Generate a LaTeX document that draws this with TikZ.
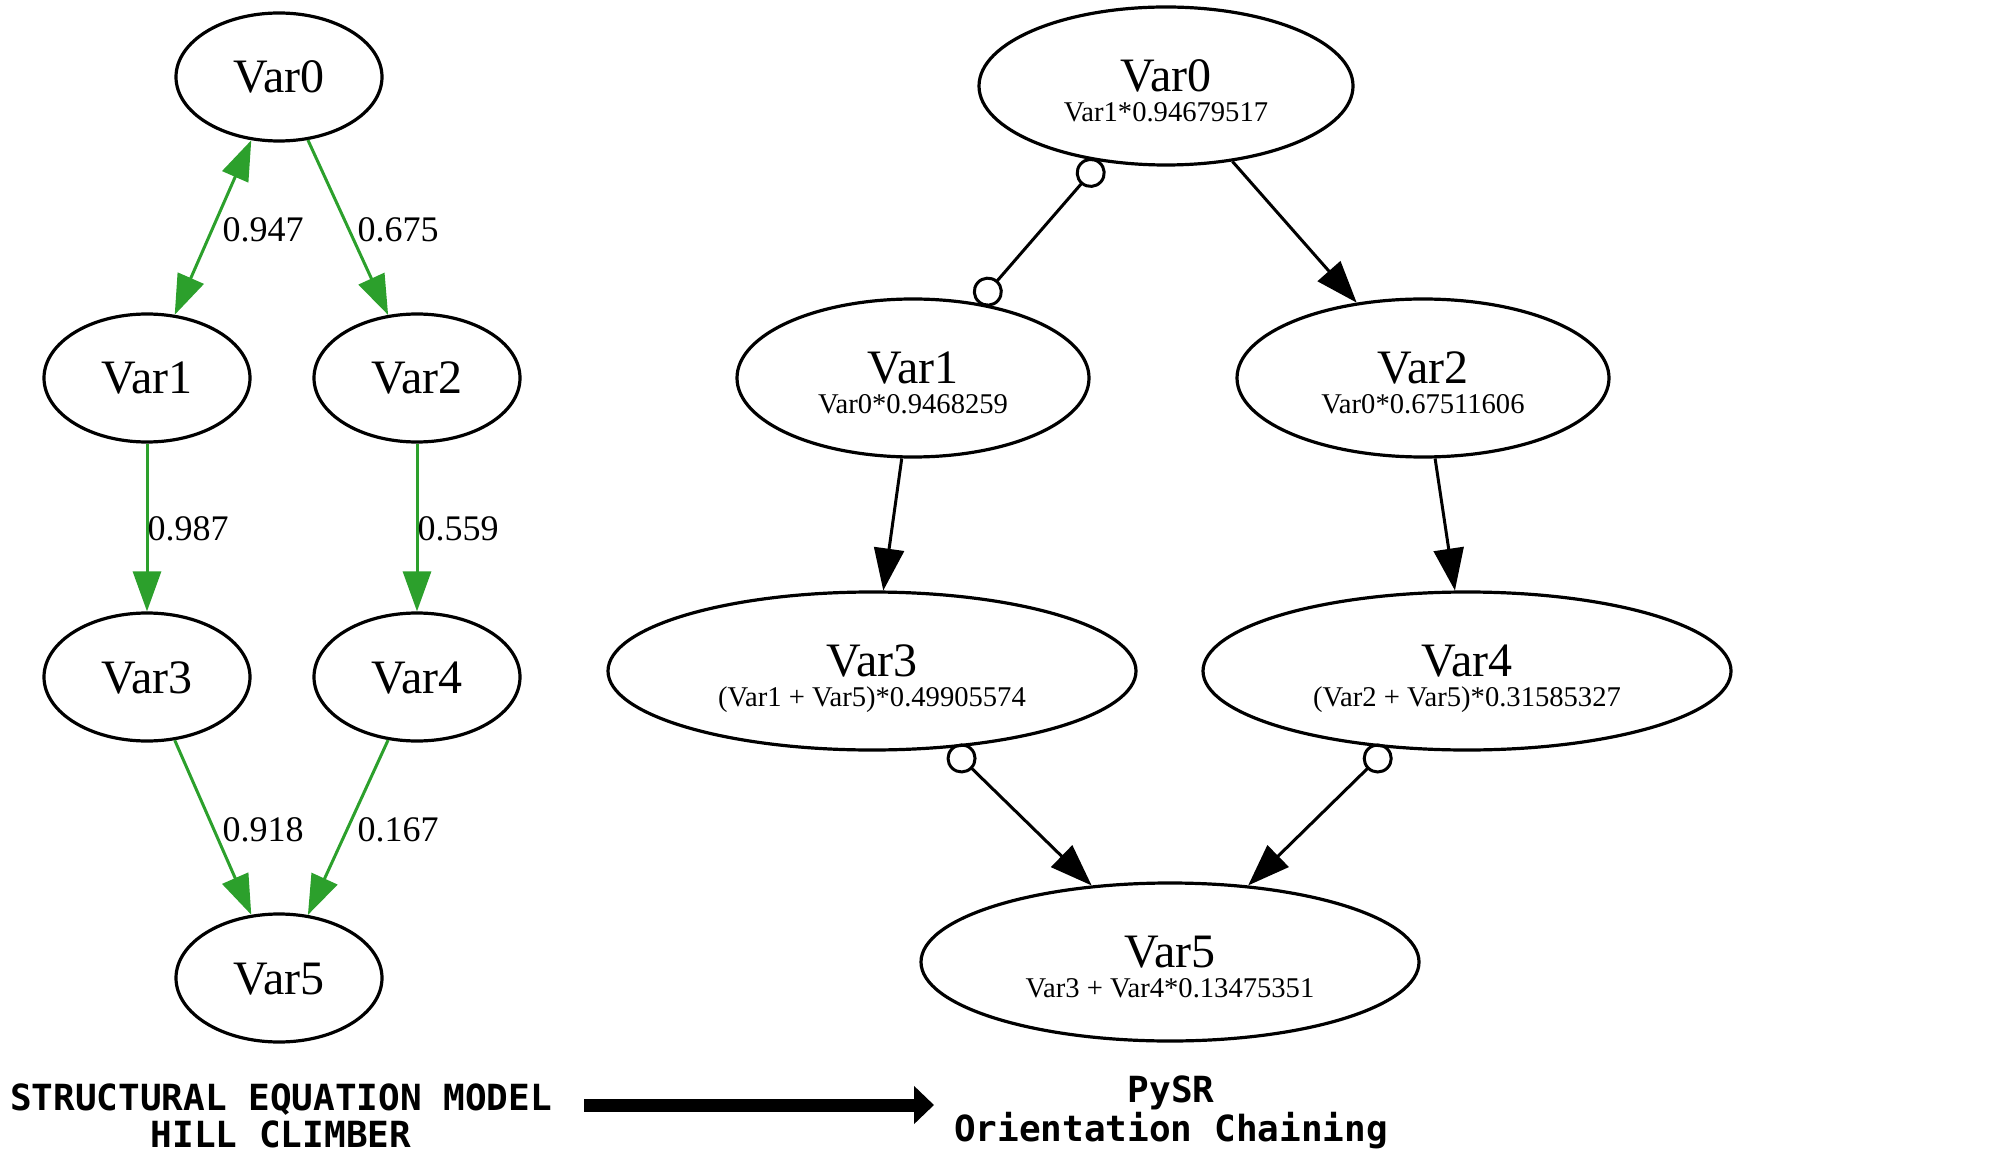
\documentclass[tikz,border=0pt]{standalone}
\usepackage{fontspec}
\setmainfont{Liberation Serif}
\setmonofont{DejaVu Sans Mono}
\usetikzlibrary{arrows.meta,shapes.geometric}
\definecolor{edgegreen}{RGB}{44,160,44}
\newcommand\vartitle{\fontsize{24}{24}\selectfont}
\begin{document}
\begin{tikzpicture}[x=0.5pt,y=-0.5pt,
  lnode/.style={draw, ellipse, line width=1.6pt, minimum width=103pt, minimum height=64pt,
    inner sep=0pt, font=\fontsize{24}{24}\selectfont, text height=16pt, text depth=0pt},
  rnode/.style={draw, ellipse, line width=1.6pt, minimum height=79pt, inner sep=0pt,
    align=center, font=\fontsize{14.3}{15}\selectfont},
  gedge/.style={draw=edgegreen, line width=1.5pt, -{Triangle[length=20pt,width=14pt]}},
  gboth/.style={draw=edgegreen, line width=1.5pt, {Triangle[length=20pt,width=14pt]}-{Triangle[length=20pt,width=14pt]}},
  bedge/.style={draw=black, line width=1.5pt, -{Triangle[length=21pt,width=15pt]}},
  cedge/.style={draw=black, line width=1.5pt, {Circle[open,length=15pt,width=15pt]}-{Triangle[length=21pt,width=15pt]}},
  ccedge/.style={draw=black, line width=1.5pt, {Circle[open,length=15pt,width=15pt]}-{Circle[open,length=15pt,width=15pt]}},
  elabel/.style={inner sep=0pt, font=\fontsize{18}{18}\selectfont},
  mono/.style={inner sep=0pt, align=center},
  bigarrow/.style={line width=6.5pt, -{Triangle[length=10pt,width=18.5pt]}}
]
\useasboundingbox (0,0) rectangle (2000,1170);

% ---------------- left graph ----------------
\node[lnode] (a0) at (279,77) {Var0};
\node[lnode] (a1) at (147,378) {Var1};
\node[lnode] (a2) at (417,378) {Var2};
\node[lnode] (a3) at (147,677) {Var3};
\node[lnode] (a4) at (417,677) {Var4};
\node[lnode] (a5) at (279,978) {Var5};

\draw[gboth] (a1) -- (a0);
\draw[gedge] (a0) -- (a2);
\draw[gedge] (a1) -- (a3);
\draw[gedge] (a2) -- (a4);
\draw[gedge] (a3) -- (a5);
\draw[gedge] (a4) -- (a5);

\node[elabel] (l01) at (263,230) {0.947};
\node[elabel] (l02) at (398,230) {0.675};
\node[elabel] (l13) at (188,529) {0.987};
\node[elabel] (l24) at (458,529) {0.559};
\node[elabel] (l35) at (263,830) {0.918};
\node[elabel] (l45) at (398,830) {0.167};

% ---------------- right graph ----------------
\node[rnode, minimum width=187pt] (b0) at (1166,86)
  {\rule{0pt}{23.5pt}{\vartitle Var0}\\\rule[-3pt]{0pt}{3pt}Var1*0.94679517};
\node[rnode, minimum width=176pt] (b1) at (913,378)
  {\rule{0pt}{23.5pt}{\vartitle Var1}\\\rule[-3pt]{0pt}{3pt}Var0*0.9468259};
\node[rnode, minimum width=186pt] (b2) at (1423,378)
  {\rule{0pt}{23.5pt}{\vartitle Var2}\\\rule[-3pt]{0pt}{3pt}Var0*0.67511606};
\node[rnode, minimum width=264pt] (b3) at (872,671)
  {\rule{0pt}{23.5pt}{\vartitle Var3}\\\rule[-3pt]{0pt}{3pt}(Var1 + Var5)*0.49905574};
\node[rnode, minimum width=264pt] (b4) at (1467,671)
  {\rule{0pt}{23.5pt}{\vartitle Var4}\\\rule[-3pt]{0pt}{3pt}(Var2 + Var5)*0.31585327};
\node[rnode, minimum width=249pt] (b5) at (1170,962)
  {\rule{0pt}{23.5pt}{\vartitle Var5}\\\rule[-3pt]{0pt}{3pt}Var3 + Var4*0.13475351};

\draw[ccedge] (b0) -- (b1);
\draw[bedge] (b0) -- (b2);
\draw[bedge] (b1) -- (b3);
\draw[bedge] (b2) -- (b4);
\draw[cedge] (b3) -- (b5);
\draw[cedge] (b4) -- (b5);

% ---------------- captions ----------------
\node[mono, font=\fontsize{18}{18.25}\ttfamily\bfseries\selectfont] (capl) at (281,1116)
  {STRUCTURAL EQUATION MODEL\\HILL CLIMBER};
\node[mono, font=\fontsize{18}{17.3}\ttfamily\bfseries\selectfont] (capr) at (1171,1112.5)
  {PySR\\Orientation Chaining};

\coordinate (arrs) at (584,1105);
\coordinate (arre) at (934,1105);
\draw[bigarrow] (arrs) -- (arre);
\end{tikzpicture}
\end{document}
